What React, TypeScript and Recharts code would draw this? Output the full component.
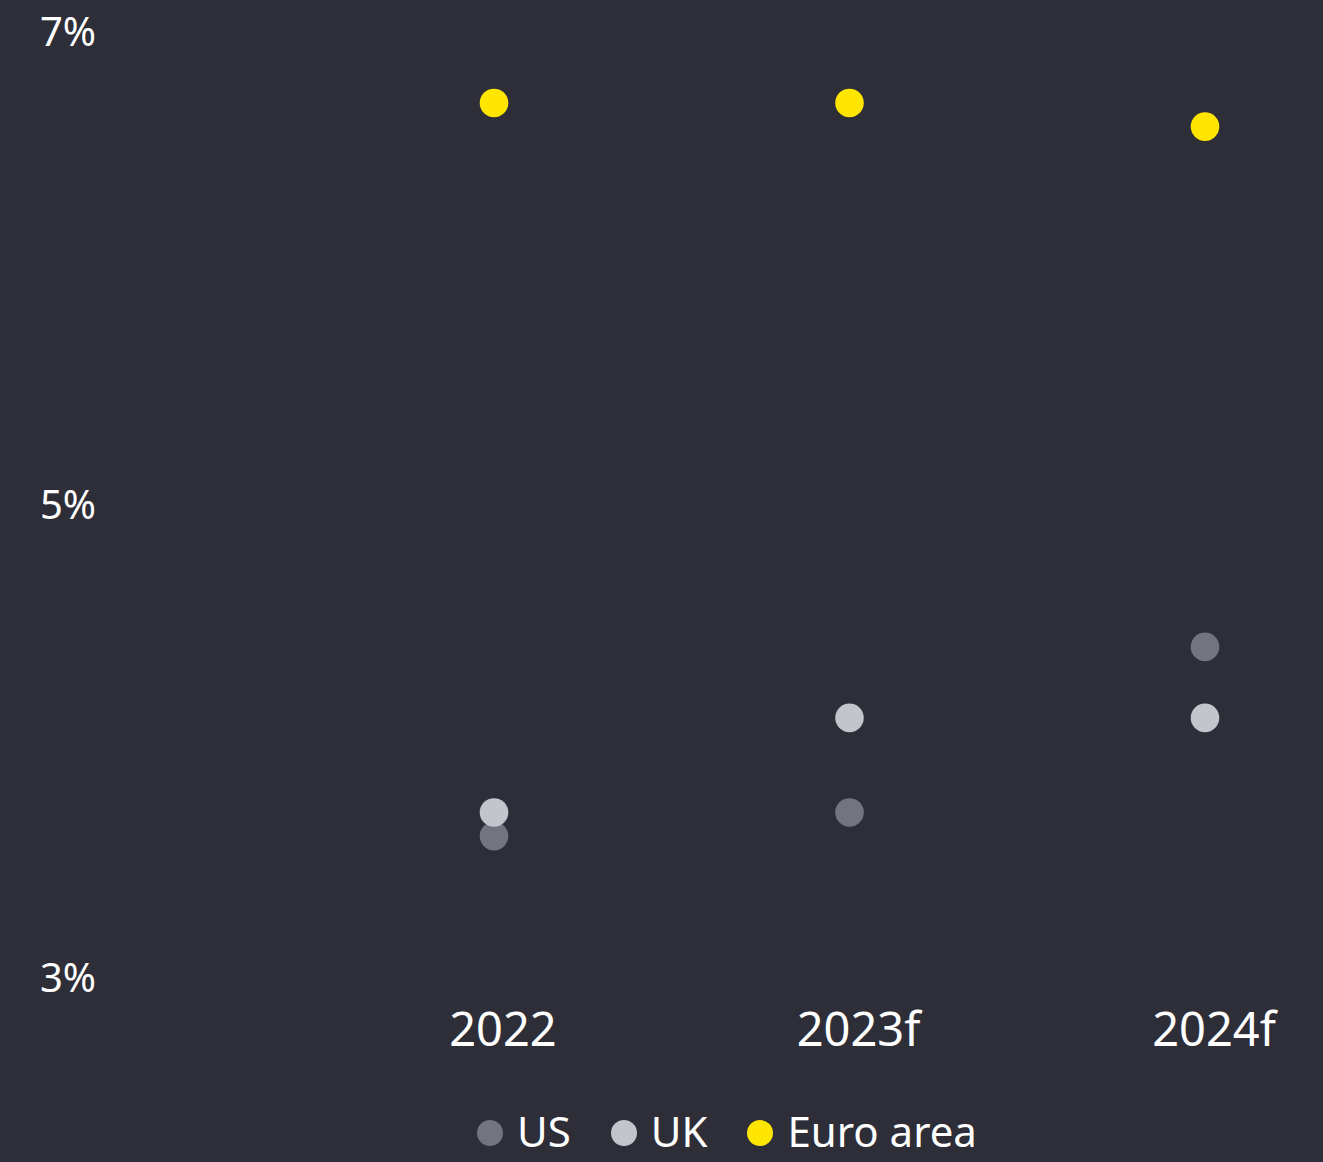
import { LineChart, Line, XAxis, YAxis } from 'recharts'

const years = ['2022', '2023f', '2024f']
const usRates = [3.6, 3.7, 4.4]
const ukRates = [3.7, 4.1, 4.1]
const euroRates = [6.7, 6.7, 6.6]
const rateTicks = [3, 5, 7]

const BG = '#2e2e38'
const FONT = '"Noto Sans", sans-serif'

const SERIES = [
  { key: 'us', name: 'US', color: '#747480' },
  { key: 'uk', name: 'UK', color: '#c4c4cd' },
  { key: 'euro', name: 'Euro area', color: '#ffe600' },
]

const data = years.map((year, i) => ({
  year,
  us: usRates[i],
  uk: ukRates[i],
  euro: euroRates[i],
}))

/** Year label under each column, nudged a little right of the dots */
function YearTick({ x, y, payload }: { x?: number; y?: number; payload?: { value: string } }) {
  return (
    <text
      x={(x ?? 0) + 9}
      y={y}
      dy="0.71em"
      textAnchor="middle"
      fill="#ffffff"
      fontSize={47}
      fontFamily={FONT}
    >
      {payload?.value}
    </text>
  )
}

export default function App() {
  return (
    <div
      style={{
        position: 'absolute',
        top: 0,
        left: 0,
        width: 1323,
        height: 1162,
        background: BG,
        overflow: 'hidden',
        fontFamily: FONT,
      }}
    >
      <LineChart
        width={1323}
        height={1100}
        data={data}
        margin={{ top: 32, right: 10, left: 0, bottom: 0 }}
      >
        <XAxis
          dataKey="year"
          axisLine={false}
          tickLine={false}
          tickSize={0}
          tickMargin={35}
          height={122}
          padding={{ left: 384, right: 108 }}
          tick={<YearTick />}
          interval={0}
        />
        <YAxis
          type="number"
          domain={[3, 7]}
          ticks={rateTicks}
          tickFormatter={(v: number) => `${v}%`}
          axisLine={false}
          tickLine={false}
          tickSize={0}
          tickMargin={14}
          width={110}
          tick={{ fill: '#ffffff', fontSize: 40, fontFamily: FONT }}
        />
        {SERIES.map((s) => (
          <Line
            key={s.key}
            dataKey={s.key}
            name={s.name}
            stroke="none"
            isAnimationActive={false}
            activeDot={false}
            dot={{ r: 14.3, fill: s.color, stroke: 'none', strokeWidth: 0 }}
          />
        ))}
      </LineChart>

      {/* Legend */}
      <div
        style={{
          position: 'absolute',
          left: 477,
          top: 1108,
          display: 'flex',
          alignItems: 'center',
          gap: 40,
          color: '#ffffff',
          fontSize: 42,
          lineHeight: '46px',
          whiteSpace: 'nowrap',
        }}
      >
        {SERIES.map((s) => (
          <div key={s.key} style={{ display: 'flex', alignItems: 'center', gap: 14 }}>
            <span
              style={{
                display: 'inline-block',
                width: 26,
                height: 26,
                marginTop: 4,
                borderRadius: '50%',
                background: s.color,
              }}
            />
            <span>{s.name}</span>
          </div>
        ))}
      </div>
    </div>
  )
}
